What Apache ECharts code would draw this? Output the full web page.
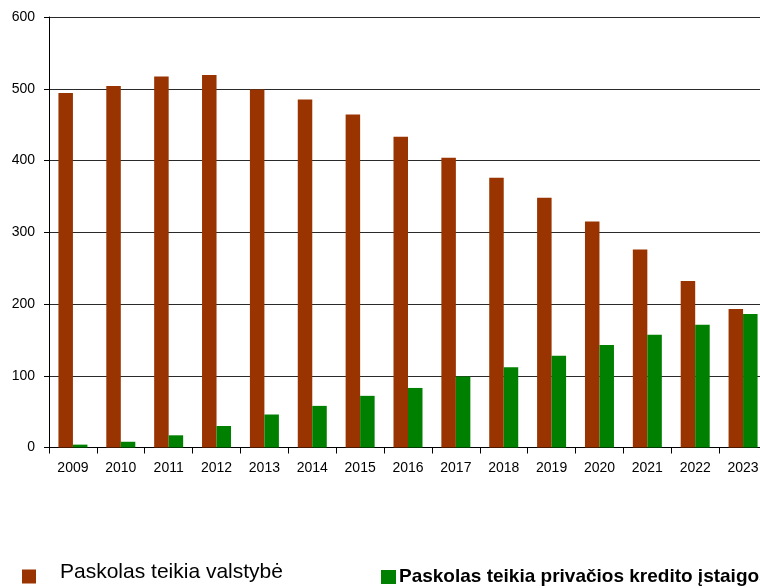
<!DOCTYPE html>
<html>
<head>
<meta charset="utf-8">
<script src="https://cdn.jsdelivr.net/npm/echarts@6/dist/echarts.min.js"></script>
<style>html,body{margin:0;padding:0;background:#fff;overflow:hidden;width:760px;height:588px;}#c{width:767px;height:588px;}</style>
</head>
<body>
<div id="c"></div>
<script>
const categories = ['2009','2010','2011','2012','2013','2014','2015','2016','2017','2018','2019','2020','2021','2022','2023'];
const stateLoans = [494, 504, 517, 519, 499, 485, 464, 433, 404, 376, 348, 315, 276, 232, 193];
const privateLoans = [4, 8, 17, 30, 46, 58, 72, 83, 99, 112, 128, 143, 157, 171, 186];
const seriesNames = ['Paskolas teikia valstybė', 'Paskolas teikia privačios kredito įstaigos'];
const yTicks = [0, 100, 200, 300, 400, 500, 600];

const font = "'Liberation Sans', Arial, sans-serif";
const chart = echarts.init(document.getElementById('c'), null, {renderer: 'canvas'});
chart.setOption({
  animation: false,
  backgroundColor: '#ffffff',
  textStyle: {fontFamily: font},
  legend: [
    {
      data: [{name: seriesNames[0]}],
      left: 22, top: 561.5, padding: 0,
      icon: 'rect', itemWidth: 14, itemHeight: 14,
      selectedMode: false,
      formatter: '{a|{name}}',
      textStyle: {
        fontFamily: font, fontSize: 21, color: '#000',
        rich: {a: {fontFamily: font, fontSize: 21, lineHeight: 22, color: '#000', padding: [0, 0, 9, 19]}}
      }
    },
    {
      data: [{name: seriesNames[1]}],
      left: 381, top: 567.5, padding: 0,
      icon: 'rect', itemWidth: 15, itemHeight: 14, itemGap: 0,
      selectedMode: false,
      textStyle: {fontFamily: font, fontSize: 19, fontWeight: 'bold', color: '#000', padding: [0, 0, 0, -2]}
    }
  ],
  grid: {left: 49, top: 17, right: 0, bottom: 140.5, containLabel: false},
  xAxis: {
    type: 'category',
    data: categories,
    boundaryGap: true,
    axisLine: {lineStyle: {color: '#000', width: 1}},
    axisTick: {show: true, length: 6, alignWithLabel: false, lineStyle: {color: '#000'}},
    axisLabel: {color: '#000', fontSize: 14, fontFamily: font, margin: 14, interval: 0}
  },
  yAxis: {
    type: 'value',
    min: yTicks[0], max: yTicks[yTicks.length - 1], interval: 100,
    axisLine: {show: true, lineStyle: {color: '#000', width: 1}},
    axisTick: {show: true, length: 5, lineStyle: {color: '#000'}},
    axisLabel: {color: '#000', fontSize: 14, fontFamily: font, margin: 14},
    splitLine: {show: true, lineStyle: {color: '#2a2a2a', width: 1}}
  },
  series: [
    {name: seriesNames[0], type: 'bar', data: stateLoans, barWidth: 14.5, barGap: '0%',
     itemStyle: {color: '#993300'}},
    {name: seriesNames[1], type: 'bar', data: privateLoans, barWidth: 14.5, barGap: '0%',
     itemStyle: {color: '#008000'}}
  ]
});
</script>
</body>
</html>
